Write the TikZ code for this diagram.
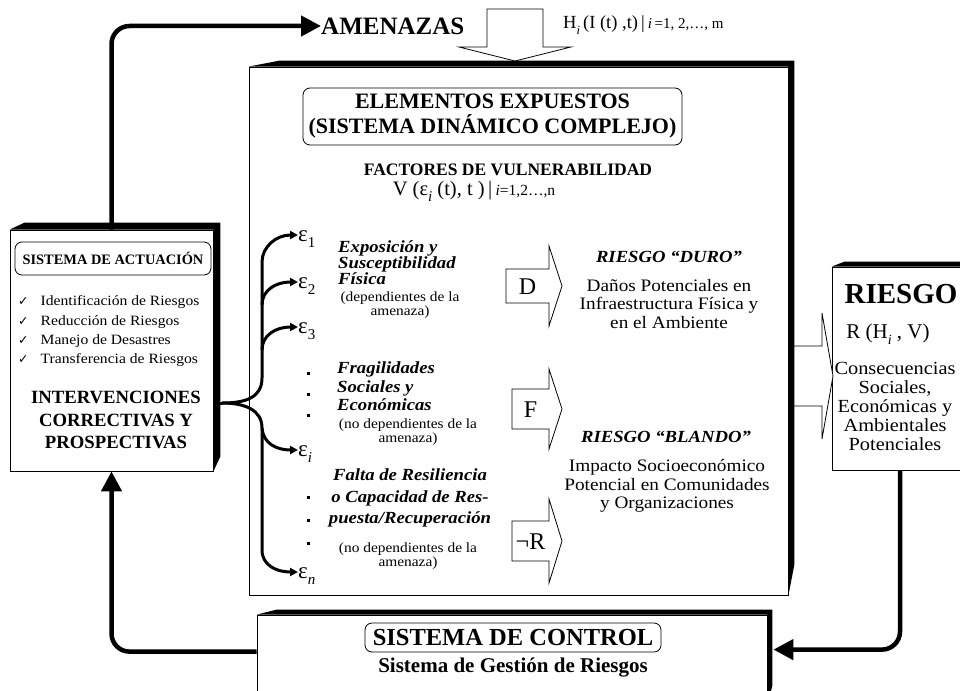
\documentclass[tikz,border=0pt]{standalone}
\usepackage{fontspec}
\setmainfont{Liberation Serif}
\newfontfamily\wideserif{Liberation Serif}[FakeStretch=1.1]
\newfontfamily\checkfont{DejaVu Sans}
\usetikzlibrary{arrows.meta,calc,positioning}

\newcommand{\fs}[2]{\fontsize{#1}{#2}\selectfont}
\newcommand{\subi}[2]{\raisebox{-0.3em}{\fs{#1}{#1}#2}}
\newcommand{\chk}{{\checkfont\fs{12.5}{12.5}✓}}
% black 3D edge on top and right of a box node
\newcommand{\boxshadow}[3]{%
  \fill (#1.north west) -- ++(#3,-#2) -- ($(#1.north east)+(#2,-#2)$)
    -- ($(#1.south east)+(#2,-#3)$) -- (#1.south east) -- (#1.north east) -- cycle;}
% hollow block arrow: x0, neck, tip, y centre, half shaft, half head
\newcommand{\rhollow}[6]{%
  \path[hollow] (#1,{#4-#5}) -- (#2,{#4-#5}) -- (#2,{#4-#6}) -- (#3,#4)
    -- (#2,{#4+#6}) -- (#2,{#4+#5}) -- (#1,{#4+#5}) -- cycle;}

\begin{document}
\begin{tikzpicture}[x=1pt,y=-1pt,
    every node/.style={inner sep=0pt},
    mainbox/.style={draw,line width=0.8pt,fill=white},
    titlebox/.style={draw,rounded corners=7pt,line width=0.8pt},
    epsnode/.style={anchor=base west,font=\fs{23}{23}},
    loopline/.style={line width=4.5pt,rounded corners=18pt,-{Triangle[length=20pt,width=20pt]}},
    branch/.style={line width=3pt,-{Triangle[length=8pt,width=8pt]}},
    hollow/.style={draw,line width=0.8pt,fill=white}]
  \useasboundingbox (0,0) rectangle (960,690);
  \clip (0,0) rectangle (960,690);

  % Drawing the four boxes
  \node[mainbox,minimum width=203pt,minimum height=241pt] (actuacion) at (111.5,350.5) {};
  \node[mainbox,minimum width=539pt,minimum height=528pt] (elementos) at (518.5,331) {};
  \node[mainbox,minimum width=136pt,minimum height=203pt] (riesgo) at (900,368.5) {};
  \node[mainbox,minimum width=510pt,minimum height=90pt] (control) at (512,660) {};
  \boxshadow{actuacion}{7}{15}
  \boxshadow{elementos}{6}{31}
  \boxshadow{riesgo}{5}{13}
  \boxshadow{control}{5}{20}

  % Marking AMENAZAS and its formula
  \node[anchor=west,font=\bfseries\fs{25}{25}] (amenazas) at (321,26) {AMENAZAS};
  \node[anchor=west,font=\fs{18.5}{18.5}] (hform) at (563,25)
    {H\subi{12.5}{\textit{i}}\,(I (t) ,t)\,|\,{\fs{15}{15}\textit{i}\,=1, 2,\dots, m}};

  % Drawing hollow arrow down into the elements
  \path[hollow] (487,9) -- (543,9) -- (543,47) -- (571,47) -- (515,61) -- (459,47) -- (487,47) -- cycle;

  % Marking the heading of the elements
  \node[titlebox,minimum width=379pt,minimum height=57pt,align=center,font=\bfseries\fs{22}{25}] (titulo)
    at (492.5,116.5) {ELEMENTOS EXPUESTOS\\(SISTEMA DINÁMICO COMPLEJO)};
  \node[font=\bfseries\fs{17.5}{17.5}] (factores) at (508,170) {FACTORES DE VULNERABILIDAD};
  \node[font=\fs{20.5}{20.5}] (vform) at (474,191)
    {V (ε\subi{15}{\textit{i}} (t), t )\,|\,{\fs{15.5}{15.5}\textit{i}=1,2\dots,n}};

  % Marking the factors
  \node[epsnode] (e1) at (298,241) {ε\subi{15}{1}};
  \node[epsnode] (e2) at (298,288) {ε\subi{15}{2}};
  \node[epsnode] (e3) at (298,333) {ε\subi{15}{3}};
  \node[epsnode] (ei) at (298,456) {ε\subi{15}{\textit{i}}};
  \node[epsnode] (en) at (298,578) {ε\subi{15}{\textit{n}}};
  \foreach \y in {373,394,415,497,520,543}
    \fill (306.5,\y-1.5) rectangle ++(3,3);

  % Drawing bracket from the interventions
  \coordinate (hub) at (222,403);
  \draw[line width=3pt] (actuacion.east |- hub) -- (hub);
  \draw[branch] (hub) .. controls (245,403) and (262,398) .. (262,378) -- (262,262)
    .. controls (262,247) and (276,235) .. ($(e1.base west)+(0,-6)$);
  \draw[branch] (262,305) .. controls (262,290) and (276,282) .. ($(e2.base west)+(0,-6)$);
  \draw[branch] (262,350) .. controls (262,335) and (276,327) .. ($(e3.base west)+(0,-6)$);
  \draw[branch] (hub) .. controls (245,403) and (262,410) .. (262,428) -- (262,550)
    .. controls (262,565) and (276,572) .. ($(en.base west)+(0,-6)$);
  \draw[branch] (262,428) .. controls (263,443) and (276,450) .. ($(ei.base west)+(0,-6)$);

  % Marking the three kinds of factors
  \node[anchor=west,align=left,font=\wideserif\bfseries\itshape\fs{17}{16}] (expos) at (338,263)
    {Exposición y\\Susceptibilidad\\Física};
  \node[align=center,font=\wideserif\fs{14}{11}] (nota1) at (400,305) {(dependientes de la\\amenaza)};
  \node[anchor=west,align=left,font=\wideserif\bfseries\itshape\fs{17}{18.5}] (fragil) at (337,386.5)
    {Fragilidades\\Sociales y\\Económicas};
  \node[align=center,font=\wideserif\fs{14}{11}] (nota2) at (408,432) {(no dependientes de la\\amenaza)};
  \node[align=center,font=\wideserif\bfseries\itshape\fs{17}{21.5}] (resil) at (410,498)
    {Falta de Resiliencia\\o Capacidad de Res-\\puesta/Recuperación};
  \node[align=center,font=\wideserif\fs{14}{11}] (nota3) at (408,556) {(no dependientes de la\\amenaza)};

  % Drawing hollow arrows D, F, not R
  \rhollow{506}{549}{562}{286}{17}{40}
  \rhollow{512}{549}{562}{409}{20}{40}
  \rhollow{512}{549}{562}{541}{20}{42}
  \node[font=\fs{24}{24}] (letD) at (527.5,287) {D};
  \node[font=\fs{24}{24}] (letF) at (530.5,410) {F};
  \node[font=\fs{24}{24}] (letR) at (530.5,542) {¬R};

  % Marking hard and soft risk
  \node[font=\wideserif\bfseries\itshape\fs{17}{17}] (duro) at (669,257) {RIESGO “DURO”};
  \node[align=center,font=\wideserif\fs{17.5}{18.5}] (danos) at (669,304)
    {Daños Potenciales en\\Infraestructura Física y\\en el Ambiente};
  \node[font=\wideserif\bfseries\itshape\fs{17}{17}] (blando) at (666,437) {RIESGO “BLANDO”};
  \node[align=center,font=\wideserif\fs{17.5}{18.5}] (impacto) at (667,486)
    {Impacto Socioeconómico\\Potencial en Comunidades\\y Organizaciones};

  % Drawing hollow arrow into the risk
  \rhollow{794}{822}{833}{376}{30}{63}

  % Marking the risk
  \node[font=\bfseries\fs{29}{29}] (riesgotit) at (901,294) {RIESGO};
  \node[font=\fs{21}{21}] (rform) at (888,334) {R (H\subi{14}{\textit{i}} , V)};
  \node[align=center,font=\wideserif\fs{18.5}{19}] (consec) at (895,406)
    {Consecuencias\\Sociales,\\Económicas y\\Ambientales\\Potenciales};

  % Marking the actions
  \node[titlebox,minimum width=196pt,minimum height=33pt,font=\bfseries\fs{14.4}{14.4}] (actit)
    at (113,258.5) {SISTEMA DE ACTUACIÓN};
  \node[anchor=west,font=\wideserif\fs{14.2}{19.3}] (lista) at (18,331)
    {\begin{tabular}{@{}l@{\hspace{12pt}}l@{}}
      \chk & Identificación de Riesgos\\
      \chk & Reducción de Riesgos\\
      \chk & Manejo de Desastres\\
      \chk & Transferencia de Riesgos
    \end{tabular}};
  \node[align=center,font=\bfseries\fs{18.7}{22.5}] (interv) at (116,420)
    {INTERVENCIONES\\CORRECTIVAS Y\\PROSPECTIVAS};

  % Marking the control system
  \node[titlebox,minimum width=296pt,minimum height=29pt,font=\bfseries\fs{24.5}{24.5}] (ctrltit)
    at (513,637.5) {SISTEMA DE CONTROL};
  \node[font=\bfseries\fs{21}{21}] (gestion) at (513,668) {Sistema de Gestión de Riesgos};

  % Drawing the feedback loop
  \draw[loopline] (actuacion.north) |- (amenazas.west);
  \draw[loopline] (riesgo.south) |- ($(control.north east)+(6,35)$);
  \draw[loopline] ($(control.north west)+(0,37)$) -| (actuacion.south);
\end{tikzpicture}
\end{document}
